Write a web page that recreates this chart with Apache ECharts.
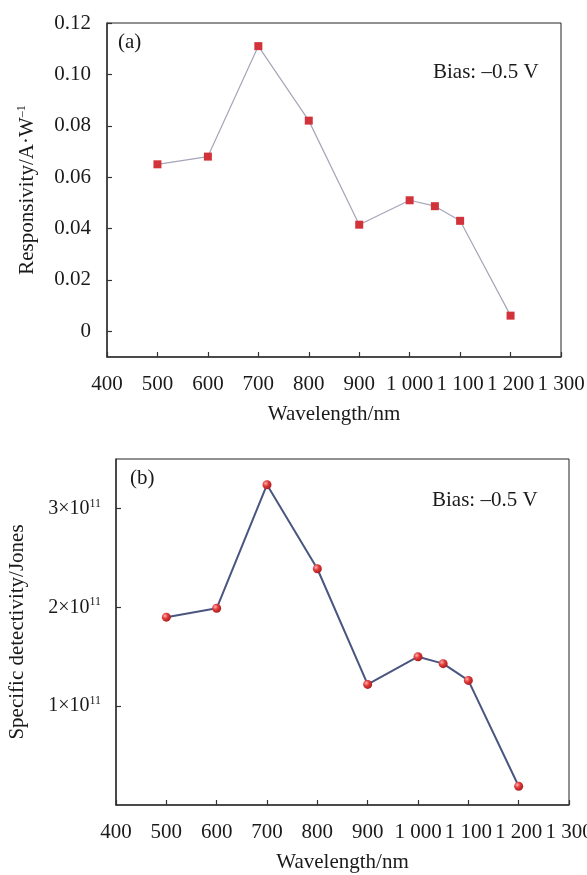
<!DOCTYPE html>
<html>
<head>
<meta charset="utf-8">
<script src="https://cdn.jsdelivr.net/npm/echarts@6/dist/echarts.min.js"></script>
<style>html,body{margin:0;padding:0;background:#fff}#c{width:587px;height:875px}</style>
</head>
<body>
<div id="c"></div>
<script>
// Data
var wavelengths = [500, 600, 700, 800, 900, 1000, 1050, 1100, 1200];
var responsivity = [0.065, 0.068, 0.111, 0.082, 0.0415, 0.051, 0.0487, 0.043, 0.0061];
var detectivity = [1.90e11, 1.99e11, 3.24e11, 2.39e11, 1.22e11, 1.50e11, 1.43e11, 1.26e11, 0.19e11];
var xTicks = [400, 500, 600, 700, 800, 900, 1000, 1100, 1200, 1300];
var respTicks = [0, 0.02, 0.04, 0.06, 0.08, 0.10, 0.12];
var detTicks = [1e11, 2e11, 3e11];

var FONT = '"Liberation Serif", "Times New Roman", serif';
var TXT = '#1a1a1a';
var FS = 21;

function xFmt(v) {
  var s = String(Math.round(v));
  if (s.length > 3) s = s.slice(0, s.length - 3) + ' ' + s.slice(-3);
  return s;
}
function pairs(xs, ys) { return xs.map(function (x, i) { return [x, ys[i]]; }); }

var chart = echarts.init(document.getElementById('c'), null, {renderer: 'canvas'});

function xAxisCfg(gi) {
  return {
    type: 'value', gridIndex: gi, min: 400, max: 1300, interval: 100,
    name: 'Wavelength/nm', nameLocation: 'middle', nameGap: 47,
    nameTextStyle: {fontFamily: FONT, fontSize: FS, color: TXT},
    axisLine: {show: true, onZero: false, lineStyle: {color: '#333', width: 1.5}},
    axisTick: {show: true, inside: true, length: 5, lineStyle: {color: '#333', width: 1.2}, customValues: xTicks},
    axisLabel: {fontFamily: FONT, fontSize: FS, color: TXT, margin: 17, formatter: xFmt, customValues: xTicks, showMinLabel: true, showMaxLabel: true, hideOverlap: false},
    splitLine: {show: false}
  };
}

var option = {
  backgroundColor: '#fff',
  animation: false,
  grid: [
    {left: 107, top: 23, right: 26, height: 334, outerBoundsMode: 'none', containLabel: false, show: true, borderColor: '#222', borderWidth: 1, backgroundColor: 'transparent'},
    {left: 116, top: 459, right: 18, height: 346, outerBoundsMode: 'none', containLabel: false, show: true, borderColor: '#222', borderWidth: 1, backgroundColor: 'transparent'}
  ],
  xAxis: [xAxisCfg(0), xAxisCfg(1)],
  yAxis: [
    {
      type: 'value', gridIndex: 0, min: -0.01, max: 0.12,
      name: '{n|Responsivity/A·W}{s|–1}', nameLocation: 'middle', nameGap: 68, nameRotate: 90,
      nameTextStyle: {fontFamily: FONT, fontSize: FS, color: TXT,
        rich: {n: {fontFamily: FONT, fontSize: FS, color: TXT}, s: {fontFamily: FONT, fontSize: 12, color: TXT, padding: [0, 0, 11, 0]}}},
      axisLine: {show: true, onZero: false, lineStyle: {color: '#333', width: 1.5}},
      axisTick: {show: true, inside: true, length: 5, lineStyle: {color: '#333', width: 1.2}, customValues: respTicks},
      axisLabel: {fontFamily: FONT, fontSize: FS, color: TXT, margin: 16, customValues: respTicks,
        formatter: function (v) { return Math.abs(v) < 1e-9 ? '0' : v.toFixed(2); }},
      splitLine: {show: false}
    },
    {
      type: 'value', gridIndex: 1, min: 0, max: 3.5e11,
      name: 'Specific detectivity/Jones', nameLocation: 'middle', nameGap: 88, nameRotate: 90,
      nameTextStyle: {fontFamily: FONT, fontSize: FS, color: TXT},
      axisLine: {show: true, onZero: false, lineStyle: {color: '#333', width: 1.5}},
      axisTick: {show: true, inside: true, length: 5, lineStyle: {color: '#333', width: 1.2}, customValues: detTicks},
      axisLabel: {fontFamily: FONT, fontSize: 20, color: TXT, margin: 15, customValues: detTicks,
        formatter: function (v) { return '{m|' + Math.round(v / 1e11) + '×10}{s|11}'; },
        rich: {m: {fontFamily: FONT, fontSize: 20, color: TXT}, s: {fontFamily: FONT, fontSize: 12, color: TXT, padding: [0, 0, 10, 0]}}},
      splitLine: {show: false}
    }
  ],
  graphic: [
    {type: 'text', left: 118, top: 32, style: {text: '(a)', font: FS + 'px ' + FONT, fill: TXT}},
    {type: 'text', left: 433, top: 62, style: {text: 'Bias: –0.5 V', font: FS + 'px ' + FONT, fill: TXT}},
    {type: 'text', left: 130, top: 468, style: {text: '(b)', font: FS + 'px ' + FONT, fill: TXT}},
    {type: 'text', left: 432, top: 490, style: {text: 'Bias: –0.5 V', font: FS + 'px ' + FONT, fill: TXT}}
  ],
  series: [
    {
      type: 'line', xAxisIndex: 0, yAxisIndex: 0,
      data: pairs(wavelengths, responsivity),
      symbol: 'rect', symbolSize: 8,
      itemStyle: {color: '#d2333a'},
      lineStyle: {color: '#a4a6b8', width: 1.2}
    },
    {
      type: 'line', xAxisIndex: 1, yAxisIndex: 1,
      data: pairs(wavelengths, detectivity),
      symbol: 'circle', symbolSize: 9,
      itemStyle: {color: {type: 'radial', x: 0.35, y: 0.35, r: 0.7, colorStops: [
        {offset: 0, color: '#ffb0b0'}, {offset: 0.45, color: '#e03a3a'}, {offset: 1, color: '#a81c1c'}]}},
      lineStyle: {color: '#4a5680', width: 2}
    }
  ]
};
chart.setOption(option);
</script>
</body>
</html>
